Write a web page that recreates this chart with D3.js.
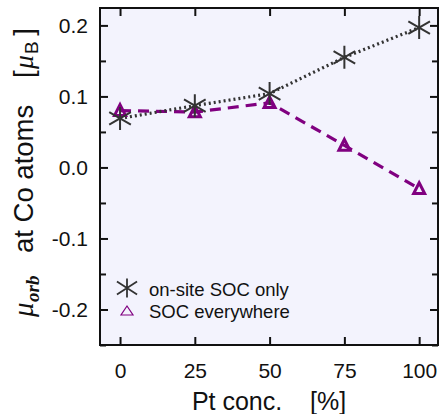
<!DOCTYPE html>
<html>
<head>
<meta charset="utf-8">
<script src="https://cdn.jsdelivr.net/npm/d3@7"></script>
<style>
  html, body { margin: 0; padding: 0; background: #fff; }
  svg { display: block; }
  text { font-family: "Liberation Sans", Arial, sans-serif; fill: #111; }
</style>
</head>
<body>
<svg id="chart" width="440" height="414"></svg>
<script>
// Pt concentration (%) and orbital moment at Co atoms (μB)
const ptConc = [0, 25, 50, 75, 100];
const onSiteSOC = [0.069, 0.087, 0.104, 0.155, 0.197];
const socEverywhere = [0.080, 0.078, 0.091, 0.031, -0.030];
const xTicks = [0, 25, 50, 75, 100];
const yTicks = [-0.2, -0.1, 0.0, 0.1, 0.2];
const yMinorTicks = [-0.25, -0.15, -0.05, 0.05, 0.15];
const seriesNames = ["on-site SOC only", "SOC everywhere"];

const svg = d3.select("#chart");
const m = { left: 100, top: 8, right: 438, bottom: 345 };

const x = d3.scaleLinear().domain([-6.7, 106.3]).range([m.left, m.right]);
const y = d3.scaleLinear().domain([-0.25, 0.2245]).range([m.bottom, m.top]);

// plot background
svg.append("rect")
  .attr("x", m.left).attr("y", m.top)
  .attr("width", m.right - m.left).attr("height", m.bottom - m.top)
  .attr("fill", "#f3f3fd");

// axes with inward ticks
const fmtY = d => d3.format(".1f")(d).replace("−", "-");
const axL = svg.append("g").attr("transform", `translate(${m.left},0)`)
  .call(d3.axisLeft(y).tickValues(yTicks).tickSize(-8).tickPadding(12).tickFormat(fmtY));
const axLm = svg.append("g").attr("transform", `translate(${m.left},0)`)
  .call(d3.axisLeft(y).tickValues(yMinorTicks).tickSize(-6).tickFormat(""));
const axR = svg.append("g").attr("transform", `translate(${m.right},0)`)
  .call(d3.axisRight(y).tickValues(yTicks).tickSize(-8).tickFormat(""));
const axRm = svg.append("g").attr("transform", `translate(${m.right},0)`)
  .call(d3.axisRight(y).tickValues(yMinorTicks).tickSize(-6).tickFormat(""));
const axB = svg.append("g").attr("transform", `translate(0,${m.bottom})`)
  .call(d3.axisBottom(x).tickValues(xTicks).tickSize(-8).tickPadding(18).tickFormat(d3.format("d")));
const axT = svg.append("g").attr("transform", `translate(0,${m.top})`)
  .call(d3.axisTop(x).tickValues(xTicks).tickSize(-8).tickFormat(""));

[axL, axLm, axR, axRm, axB, axT].forEach(g => {
  g.select(".domain").remove();
  g.selectAll(".tick line").attr("stroke", "#111").attr("stroke-width", 2);
  g.selectAll(".tick text").attr("font-size", 21).attr("fill", "#111")
    .style("font-family", "'Liberation Sans', Arial, sans-serif");
});

// frame
svg.append("rect")
  .attr("x", m.left).attr("y", m.top)
  .attr("width", m.right - m.left).attr("height", m.bottom - m.top)
  .attr("fill", "none").attr("stroke", "#111").attr("stroke-width", 2);

const line = d3.line().x(d => x(d[0])).y(d => y(d[1]));
const starData = ptConc.map((c, i) => [c, onSiteSOC[i]]);
const triData = ptConc.map((c, i) => [c, socEverywhere[i]]);

// six-armed star marker: vertical arm plus two shallow diagonals
function starPath(rv, rd, deg) {
  const p = d3.path();
  p.moveTo(0, -rv); p.lineTo(0, rv);
  [deg, 180 - deg].forEach(a => {
    const t = a * Math.PI / 180;
    p.moveTo(-rd * Math.cos(t), -rd * Math.sin(t));
    p.lineTo(rd * Math.cos(t), rd * Math.sin(t));
  });
  return p.toString();
}
function triPath(h, w) {
  return `M0,${-h}L${w},${h * 0.8}L${-w},${h * 0.8}Z`;
}

// purple dashed series
svg.append("path").datum(triData)
  .attr("d", line).attr("fill", "none")
  .attr("stroke", "#800080").attr("stroke-width", 3.2)
  .attr("stroke-dasharray", "11,7");

// gray dotted series
svg.append("path").datum(starData)
  .attr("d", line).attr("fill", "none")
  .attr("stroke", "#333").attr("stroke-width", 3.2)
  .attr("stroke-dasharray", "2,3");

svg.selectAll(".tri").data(triData).enter().append("path")
  .attr("transform", d => `translate(${x(d[0])},${y(d[1])})`)
  .attr("d", triPath(6, 5.5))
  .attr("fill", "none").attr("stroke", "#800080").attr("stroke-width", 3);

svg.selectAll(".star").data(starData).enter().append("path")
  .attr("transform", d => `translate(${x(d[0])},${y(d[1])})`)
  .attr("d", starPath(11.5, 12.5, 30))
  .attr("fill", "none").attr("stroke", "#333").attr("stroke-width", 2);

// legend
const lg = svg.append("g");
lg.append("path").attr("transform", "translate(127,288)").attr("d", starPath(9.5, 12, 33))
  .attr("fill", "none").attr("stroke", "#333").attr("stroke-width", 1.8);
lg.append("path").attr("transform", "translate(127,311)").attr("d", triPath(5, 6))
  .attr("fill", "none").attr("stroke", "#800080").attr("stroke-width", 1.2);
lg.append("text").attr("x", 149).attr("y", 296).attr("font-size", 18.5).text(seriesNames[0]);
lg.append("text").attr("x", 149).attr("y", 318).attr("font-size", 18.5).text(seriesNames[1]);

// x axis title
svg.append("text").attr("x", 269).attr("y", 410).attr("text-anchor", "middle")
  .attr("font-size", 25).attr("xml:space", "preserve").text("Pt conc.    [%]");

// y axis title, laid out along the rotated baseline (distance upward from y = 317)
const serif = "'Liberation Serif', 'Times New Roman', serif";
const yt = svg.append("g").attr("transform", "translate(33,317) rotate(-90)");
yt.append("text").attr("x", 0).attr("y", 0)
  .style("font-family", serif).attr("font-style", "italic").attr("font-size", 29).text("μ");
yt.append("text").attr("x", 15).attr("y", 6)
  .style("font-family", serif).attr("font-style", "italic").attr("font-weight", "bold")
  .attr("font-size", 19).text("orb");
yt.append("text").attr("x", 64).attr("y", 0).attr("font-size", 27.5).text("at Co atoms");
yt.append("text").attr("x", 239).attr("y", 0).attr("font-size", 27.5).text("[");
yt.append("text").attr("x", 248).attr("y", 0)
  .style("font-family", serif).attr("font-style", "italic").attr("font-size", 27.5).text("μ");
yt.append("text").attr("x", 263).attr("y", 5).attr("font-size", 19).text("B");
yt.append("text").attr("x", 289).attr("y", 0).attr("text-anchor", "end")
  .attr("font-size", 27.5).text("]");
</script>
</body>
</html>
